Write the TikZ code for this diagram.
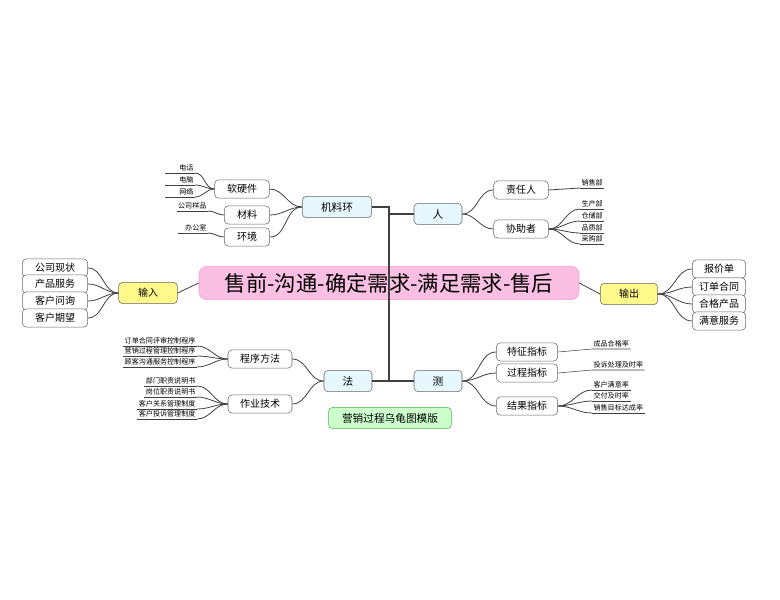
\documentclass[tikz,border=0pt]{standalone}
\usepackage{fontspec}
\setmainfont{Noto Sans CJK SC}
\usetikzlibrary{positioning}
\tikzset{
  box/.style={draw=gray!80!black,rounded corners=3pt,fill=white,font=\fontsize{7.5}{8}\selectfont,minimum height=11pt,inner xsep=5pt},
  mainbox/.style={box,fill=cyan!10,font=\fontsize{8}{9}\selectfont,minimum height=16pt},
  iobox/.style={box,fill=yellow!45,minimum height=16pt},
  leaf/.style={inner sep=1pt,font=\fontsize{5.3}{6}\selectfont},
  link/.style={draw=gray!50!black,semithick},
  uline/.style={draw=gray!50!black,thin}
}
\begin{document}
\begin{tikzpicture}[x=0.75pt,y=-0.75pt]
\useasboundingbox (0,0) rectangle (780,599);

% centre and main branches
\node[box,fill=magenta!25,draw=magenta!40,rounded corners=6pt,minimum width=285pt,minimum height=25pt,font=\fontsize{16}{18}\selectfont] (core) at (389,283) {售前-沟通-确定需求-满足需求-售后};
\node[mainbox,minimum width=52pt] (jlh) at (337,207) {机料环};
\node[mainbox,minimum width=36pt] (ren) at (438,214) {人};
\node[mainbox,minimum width=36pt] (fa) at (348,381) {法};
\node[mainbox,minimum width=36pt] (ce) at (438,381) {测};
\node[box,fill=green!20,draw=green!40!gray,minimum width=92pt,minimum height=16pt,font=\fontsize{8}{9}\selectfont] (title) at (390,418) {营销过程乌龟图模版};
\coordinate (top) at (389,207);
\coordinate (bot) at (389,381);
\draw[link,thick] (jlh.east) -- (top) -- (bot) -- (fa.east);
\draw[link,thick] (389,214) -- (ren.west);
\draw[link,thick] (bot) -- (ce.west);

% input and output
\node[iobox,minimum width=44pt] (in) at (148,293) {输入};
\node[iobox,minimum width=43pt] (out) at (629,294) {输出};
\draw[link] (core.west) -- (in.east);
\draw[link] (core.east) -- (out.west);
\foreach \t/\y [count=\i] in {公司现状/268,产品服务/284,客户问询/301,客户期望/318} {
  \node[box,minimum width=49pt,minimum height=12pt] (in\i) at (55,\y) {\t};
  \draw[link] (in.west) to[out=180,in=0] (in\i.east);
}
\foreach \t/\y [count=\i] in {报价单/269,订单合同/287,合格产品/304,满意服务/321} {
  \node[box,minimum width=40pt,minimum height=12pt] (out\i) at (719,\y) {\t};
  \draw[link] (out.east) to[out=0,in=180] (out\i.west);
}

% 机料环
\node[box,minimum width=41pt] (rjj) at (242,189) {软硬件};
\node[box,minimum width=34pt] (cl) at (247,215) {材料};
\node[box,minimum width=34pt] (hj) at (247,237) {环境};
\foreach \n in {rjj,cl,hj}
  \draw[link] (jlh.west) to[out=180,in=0] (\n.east);
\foreach \t/\y [count=\i] in {电话/173,电脑/185,网络/197} {
  \node[leaf,anchor=south east] (rl\i) at (195,\y) {\t};
  \draw[uline] (rl\i.south east) -- ++(-30,0);
  \draw[link] (rjj.west) to[out=180,in=0] (rl\i.south east);
}
\node[leaf,anchor=south east] (cl1) at (208,211) {公司样品};
\draw[uline] (cl1.south west) -- (cl1.south east);
\draw[link] (cl.west) to[out=180,in=0] (cl1.south east);
\node[leaf,anchor=south east] (hj1) at (208,233) {办公室};
\draw[uline] (hj1.south west) ++(-6,0) -- (hj1.south east);
\draw[link] (hj.west) to[out=180,in=0] (hj1.south east);

% 人
\node[box,minimum width=41pt] (zrr) at (521,190) {责任人};
\node[box,minimum width=41pt] (xzz) at (521,229) {协助者};
\foreach \n in {zrr,xzz}
  \draw[link] (ren.east) to[out=0,in=180] (\n.west);
\node[leaf,anchor=south west] (zr1) at (580,188) {销售部};
\draw[uline] (zr1.south west) -- (zr1.south east);
\draw[link] (zrr.east) -- (zr1.south west);
\foreach \t/\y [count=\i] in {生产部/209,仓储部/221,品质部/233,采购部/244} {
  \node[leaf,anchor=south west] (xz\i) at (580,\y) {\t};
  \draw[uline] (xz\i.south west) -- (xz\i.south east);
  \draw[link] (xzz.east) to[out=0,in=180] (xz\i.south west);
}

% 法
\node[box,minimum width=48pt] (cxff) at (260,359) {程序方法};
\node[box,minimum width=48pt] (zyjs) at (260,404) {作业技术};
\foreach \n in {cxff,zyjs}
  \draw[link] (fa.west) to[out=180,in=0] (\n.east);
\foreach \t/\y [count=\i] in {订单合同评审控制程序/346,营销过程管理控制程序/356,顾客沟通服务控制程序/367} {
  \node[leaf,anchor=south east] (cx\i) at (197,\y) {\t};
  \draw[uline] (cx\i.south west) -- (cx\i.south east);
  \draw[link] (cxff.west) to[out=180,in=0] (cx\i.south east);
}
\foreach \t/\y [count=\i] in {部门职责说明书/386,岗位职责说明书/397,客户关系管理制度/409,客户投诉管理制度/419} {
  \node[leaf,anchor=south east] (zy\i) at (197,\y) {\t};
  \draw[uline] (zy\i.south west) -- (zy\i.south east);
  \draw[link] (zyjs.west) to[out=180,in=0] (zy\i.south east);
}

% 测
\node[box,minimum width=46pt] (tz) at (527,352) {特征指标};
\node[box,minimum width=46pt] (gc) at (527,373) {过程指标};
\node[box,minimum width=46pt] (jg) at (527,406) {结果指标};
\foreach \n in {tz,gc,jg}
  \draw[link] (ce.east) to[out=0,in=180] (\n.west);
\node[leaf,anchor=south west] (tz1) at (592,349) {成品合格率};
\draw[uline] (tz.east) -- (tz1.south west) -- (tz1.south east);
\node[leaf,anchor=south west] (gc1) at (592,370) {投诉处理及时率};
\draw[uline] (gc.east) -- (gc1.south west) -- (gc1.south east);
\foreach \t/\y [count=\i] in {客户满意率/390,交付及时率/401,销售目标达成率/413} {
  \node[leaf,anchor=south west] (jg\i) at (592,\y) {\t};
  \draw[uline] (jg\i.south west) -- (jg\i.south east);
  \draw[link] (jg.east) to[out=0,in=180] (jg\i.south west);
}
\end{tikzpicture}
\end{document}
